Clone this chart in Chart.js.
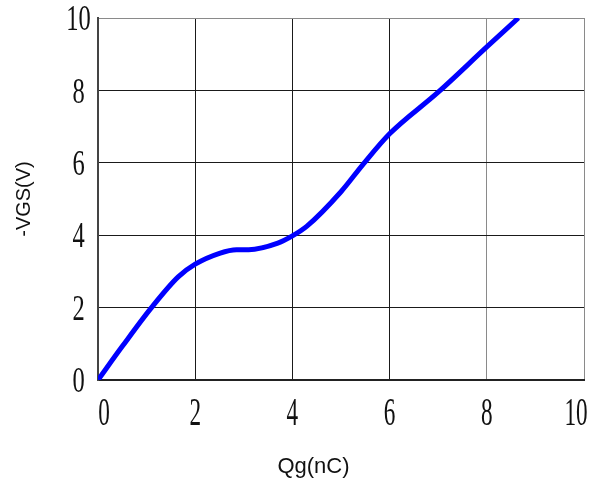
<!DOCTYPE html>
<html>
<head>
<meta charset="utf-8">
<script src="https://cdn.jsdelivr.net/npm/chart.js@4.4.0/dist/chart.umd.min.js"></script>
<style>
  html, body { margin: 0; padding: 0; background: #fff; }
  #wrap { width: 592px; height: 480px; }
</style>
</head>
<body>
<div id="wrap"><canvas id="chart" width="592" height="480"></canvas></div>
<script>
// gate charge curve
const qgValues = [0, 0.5, 1.1, 1.65, 2.0, 2.5, 2.85, 3.1, 3.7, 4.0, 4.3, 5.0, 5.45, 6.0, 7.0, 8.0, 8.65];
const vgsValues = [0, 0.93, 2.0, 2.85, 3.2, 3.5, 3.6, 3.6, 3.78, 3.98, 4.25, 5.2, 5.95, 6.8, 7.95, 9.2, 10.0];
const axisMin = 0;
const axisMax = 10;
const axisStep = 2;
const xTitle = 'Qg(nC)';
const yTitle = '-VGS(V)';

const gate = document.getElementById('chart').getContext('2d');

// tick digits in the picture are tall and narrow, squeeze them sideways
function squeezeLabels(scale, sx, dy, dxFor) {
  const draw = scale.drawLabels;
  scale.drawLabels = function (area) {
    const ctx = this.ctx;
    const fill = ctx.fillText;
    ctx.fillText = function (t, x, y) {
      this.save();
      this.translate(x + (dxFor ? dxFor(t) : 0), y + dy);
      this.scale(sx, 1);
      fill.call(this, t, 0, 0);
      this.restore();
    };
    draw.call(this, area);
    delete ctx.fillText;
  };
  scale._narrow = true;
}

// end labels on the x axis sit a little inside the frame
function edgeShift(t) {
  if (t === '0') return 6;
  if (t === '10') return -8;
  return 0;
}

const narrowTicks = {
  id: 'narrowTicks',
  beforeDraw(chart) {
    if (!chart.scales.x._narrow) squeezeLabels(chart.scales.x, 0.58, 0, edgeShift);
    if (!chart.scales.y._narrow) squeezeLabels(chart.scales.y, 0.7, 3);
  }
};

// fixed box sizes, no extra room for the edge labels
function fitBox(s, key, size) {
  s[key] = size;
  s.paddingTop = 0;
  s.paddingBottom = 0;
  s.paddingLeft = 0;
  s.paddingRight = 0;
}

function gridColor(ctx) {
  const v = ctx.tick ? ctx.tick.value : 0;
  return v === 10 ? '#8a8a8a' : '#1a1a1a';
}

function setChart() {
  const points = qgValues.map((q, i) => ({ x: q, y: vgsValues[i] }));
  new Chart(gate, {
    type: 'line',
    data: {
      datasets: [
        {
          data: points,
          borderColor: '#0000ff',
          borderWidth: 5,
          pointRadius: 0,
          cubicInterpolationMode: 'monotone',
          fill: false
        }
      ]
    },
    options: {
      responsive: false,
      animation: false,
      layout: { padding: { top: 18, right: 8, left: 0, bottom: 0 } },
      plugins: {
        legend: { display: false },
        tooltip: { enabled: false }
      },
      scales: {
        x: {
          type: 'linear',
          min: axisMin,
          max: axisMax,
          afterFit: s => fitBox(s, 'height', 100),
          ticks: {
            stepSize: axisStep,
            color: '#111',
            padding: 10,
            maxRotation: 0,
            font: { family: 'Liberation Serif', size: 40 }
          },
          grid: {
            color: ctx => (ctx.tick && ctx.tick.value === 8) ? '#8a8a8a' : gridColor(ctx),
            lineWidth: 1,
            drawTicks: false
          },
          border: { color: '#222', width: 2 },
          title: {
            display: true,
            text: xTitle + '         ',
            color: '#111',
            padding: { top: 0, bottom: 0 },
            font: { family: 'Liberation Sans', size: 22 }
          }
        },
        y: {
          min: axisMin,
          max: axisMax,
          afterFit: s => fitBox(s, 'width', 98),
          ticks: {
            stepSize: axisStep,
            color: '#111',
            padding: 2,
            crossAlign: 'center',
            font: { family: 'Liberation Serif', size: 35 }
          },
          grid: {
            color: gridColor,
            lineWidth: 1,
            drawTicks: false
          },
          border: { color: '#444', width: 2 },
          title: {
            display: true,
            text: yTitle,
            color: '#111',
            padding: { top: 12, bottom: 0 },
            font: { family: 'Liberation Sans', size: 20 }
          }
        }
      }
    },
    plugins: [narrowTicks]
  });
}

document.addEventListener('DOMContentLoaded', setChart);
</script>
</body>
</html>
